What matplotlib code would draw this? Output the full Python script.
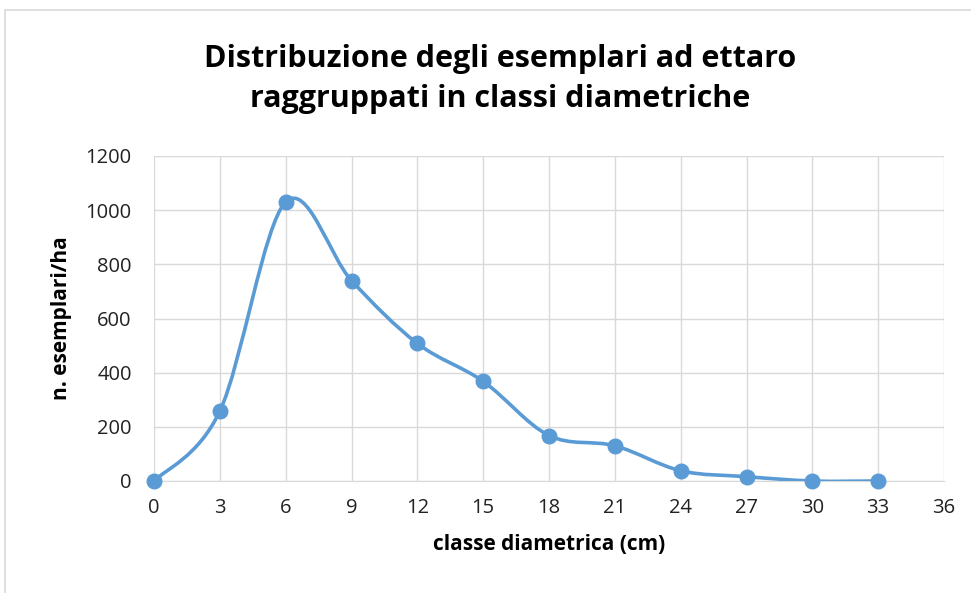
import numpy as np
import matplotlib.pyplot as plt
from matplotlib.path import Path
from matplotlib.patches import PathPatch, Rectangle

# data
classe = [0, 3, 6, 9, 12, 15, 18, 21, 24, 27, 30, 33]
esemplari = [0, 258, 1030, 740, 508, 368, 168, 130, 38, 16, 0, 0]

blue = '#5b9bd5'
grey = '#d9d9d9'


def smooth_path(x, y):
    # Excel-style smoothed line: cubic bezier with catmull-rom tangents
    pts = np.column_stack([x, y]).astype(float)
    n = len(pts)
    verts = [pts[0]]
    codes = [Path.MOVETO]
    for i in range(n - 1):
        p0 = pts[i - 1] if i > 0 else pts[i]
        p1 = pts[i]
        p2 = pts[i + 1]
        p3 = pts[i + 2] if i + 2 < n else pts[i + 1]
        c1 = p1 + (p2 - p0) / 6
        c2 = p2 - (p3 - p1) / 6
        verts += [c1, c2, p2]
        codes += [Path.CURVE4] * 3
    return Path(verts, codes)


plt.rcParams['font.family'] = ['Open Sans', 'DejaVu Sans']

fig = plt.figure(figsize=(9.71, 5.93), dpi=100)
ax = fig.add_axes([154 / 971, 112 / 593, 790 / 971, 325 / 593])

fig.patches.append(Rectangle((5 / 971, -0.1), 1.2, (583 / 593) + 0.1,
                             transform=fig.transFigure, fill=False,
                             edgecolor=grey, linewidth=1.2))

ax.add_patch(PathPatch(smooth_path(classe, esemplari), fill=False,
                       edgecolor=blue, linewidth=2.6, zorder=3))
ax.plot(classe, esemplari, 'o', color=blue, markersize=10.5, zorder=4,
        clip_on=False)

ax.set_xlim(0, 36)
ax.set_ylim(0, 1200)
ax.set_xticks(range(0, 37, 3))
ax.set_yticks(range(0, 1201, 200))
ax.grid(True, color=grey, linewidth=1)
ax.set_axisbelow(True)
for s in ax.spines.values():
    s.set_visible(False)
ax.spines['bottom'].set_visible(True)
ax.spines['bottom'].set_color(grey)
ax.tick_params(length=0, labelsize=14.5, colors='#222222')
ax.tick_params(axis='x', pad=12)
ax.tick_params(axis='y', pad=16)

ax.set_xlabel('classe diametrica (cm)', fontsize=15, fontweight='bold',
              labelpad=12)
ax.set_ylabel('n. esemplari/ha', fontsize=15, fontweight='bold',
              labelpad=10)

fig.text(500 / 971, 1 - 79 / 593,
         'Distribuzione degli esemplari ad ettaro\nraggruppati in classi diametriche',
         ha='center', va='center', fontsize=22, fontweight='bold',
         linespacing=1.45)

fig.savefig('out.png', dpi=100)
